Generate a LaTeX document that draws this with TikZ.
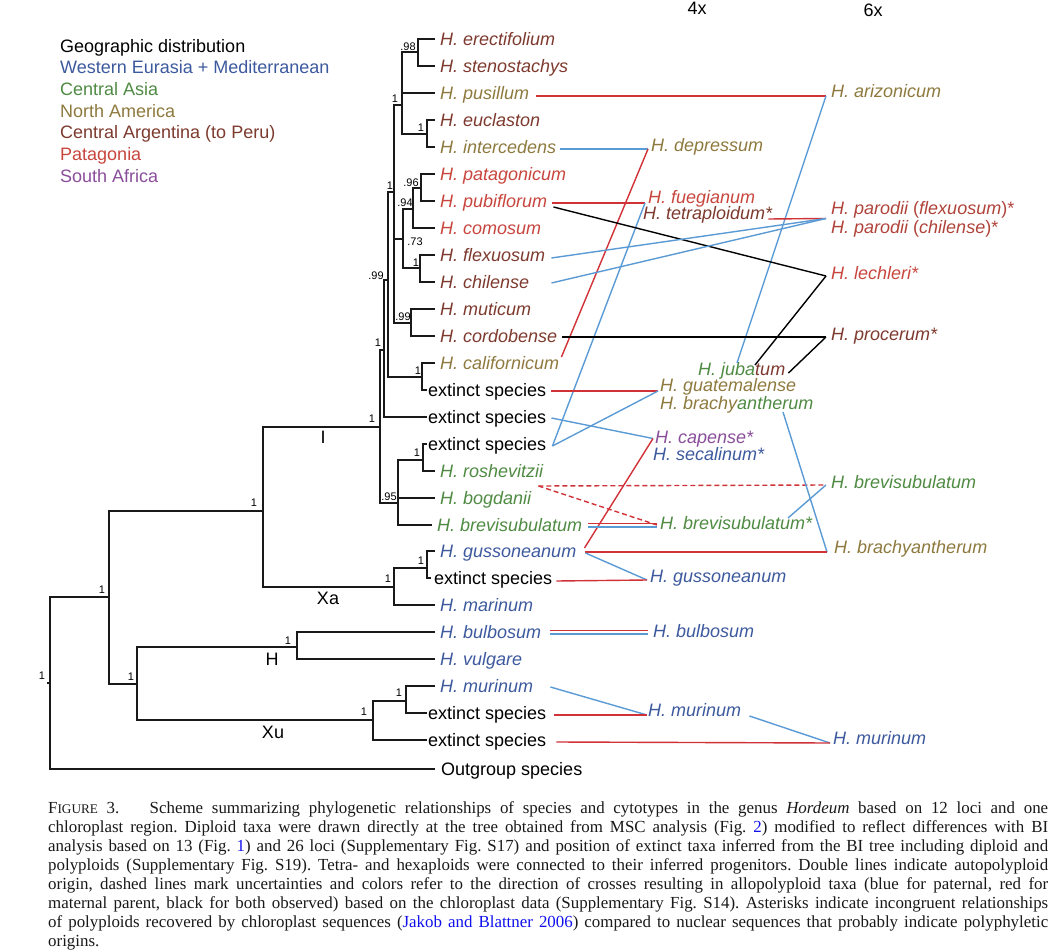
\documentclass[tikz,border=0pt]{standalone}
\usepackage{fontspec}
\setmainfont{Liberation Sans}
\newfontfamily\capfont{Liberation Serif}
\usetikzlibrary{calc}
\definecolor{cWE}{HTML}{3D5A9E}
\definecolor{cCA}{HTML}{4F8B43}
\definecolor{cNA}{HTML}{8E7A3E}
\definecolor{cAR}{HTML}{7E3A2E}
\definecolor{cPA}{HTML}{C8463E}
\definecolor{cPD}{HTML}{B0433A}
\definecolor{cSA}{HTML}{8A4E9A}
\definecolor{lblue}{HTML}{5B9BD5}
\definecolor{lred}{HTML}{D03238}
\definecolor{linkblue}{HTML}{1010EE}
\tikzset{
  tip/.style={anchor=west, inner sep=0pt, text height=13pt, text depth=0pt, font=\fontsize{18}{20}\selectfont\itshape},
  ext/.style={anchor=west, inner sep=0pt, text height=13pt, text depth=0pt, font=\fontsize{18}{20}\selectfont},
  sup/.style={inner sep=0pt, font=\fontsize{11}{12}\selectfont},
  clade/.style={inner sep=0pt, font=\fontsize{18}{20}\selectfont},
  legend/.style={anchor=west, inner sep=0pt, text height=13pt, text depth=0pt, font=\fontsize{18}{20}\selectfont},
  tree/.style={line width=1.7pt, black!90},
  bl/.style={line width=1.4pt, lblue},
  rd/.style={line width=1.4pt, lred},
  bk/.style={line width=1.4pt, black},
  capline/.style={anchor=base west, inner sep=0pt, font=\capfont\fontsize{16.9}{19}\selectfont\frenchspacing, text=black!90}
}
\begin{document}
\begin{tikzpicture}[x=1pt,y=-1pt]
\useasboundingbox (0,0) rectangle (1052,952);
\fill[white] (0,0) rectangle (1052,952);

% legend
\node[legend] (lg0) at (60,46) {Geographic distribution};
\node[legend,cWE] (lg1) at (60,67) {Western Eurasia + Mediterranean};
\node[legend,cCA] (lg2) at (60,89) {Central Asia};
\node[legend,cNA] (lg3) at (60,111) {North America};
\node[legend,cAR] (lg4) at (60,132) {Central Argentina (to Peru)};
\node[legend,cPA] (lg5) at (60,154) {Patagonia};
\node[legend,cSA] (lg6) at (60,176) {South Africa};

% headers
\node[clade] (h4) at (697,8) {4x};
\node[clade] (h6) at (873,10) {6x};

% tips
\node[tip,cAR] (ere) at (440,39) {H. erectifolium};
\node[tip,cAR] (ste) at (440,66) {H. stenostachys};
\node[tip,cNA] (pus) at (440,93) {H. pusillum};
\node[tip,cAR] (euc) at (440,120) {H. euclaston};
\node[tip,cNA] (int) at (440,147) {H. intercedens};
\node[tip,cPA] (pat) at (440,174) {H. patagonicum};
\node[tip,cPA] (pub) at (440,201) {H. pubiflorum};
\node[tip,cPA] (com) at (440,228) {H. comosum};
\node[tip,cAR] (fle) at (440,255) {H. flexuosum};
\node[tip,cAR] (chi) at (440,282) {H. chilense};
\node[tip,cAR] (mut) at (440,309) {H. muticum};
\node[tip,cAR] (cor) at (440,336) {H. cordobense};
\node[tip,cNA] (cal) at (440,363) {H. californicum};
\node[ext] (ex14) at (428,390) {extinct species};
\node[ext] (ex15) at (428,417) {extinct species};
\node[ext] (ex16) at (428,444) {extinct species};
\node[tip,cCA] (ros) at (440,471) {H. roshevitzii};
\node[tip,cCA] (bog) at (440,498) {H. bogdanii};
\node[tip,cCA] (bre) at (437,525) {H. brevisubulatum};
\node[tip,cWE] (gus) at (440,551) {H. gussoneanum};
\node[ext] (ex21) at (434,578) {extinct species};
\node[tip,cWE] (mar) at (440,605) {H. marinum};
\node[tip,cWE] (bul) at (440,632) {H. bulbosum};
\node[tip,cWE] (vul) at (440,659) {H. vulgare};
\node[tip,cWE] (mur) at (440,686) {H. murinum};
\node[ext] (ex26) at (428,713) {extinct species};
\node[ext] (ex27) at (428,740) {extinct species};
\node[ext] (out) at (441,769) {Outgroup species};

% 4x
\node[tip,cNA] (dep) at (651,145) {H. depressum};
\node[tip,cPA] (fue) at (648,197) {H. fuegianum};
\node[tip,cAR] (tet) at (643,213) {H. tetraploidum*};
\node[tip] (jub) at (698,369) {\color{cCA}H. juba\color{cAR}tum};
\node[tip,cNA] (gua) at (660,385) {H. guatemalense};
\node[tip] (bra4) at (660,403) {\color{cNA}H. brachy\color{cCA}antherum};
\node[tip,cSA] (cap) at (655,437) {H. capense*};
\node[tip,cWE] (sec) at (653,454) {H. secalinum*};
\node[tip,cCA] (bre4) at (660,523) {H. brevisubulatum*};
\node[tip,cWE] (gus4) at (650,576) {H. gussoneanum};
\node[tip,cWE] (bul4) at (653,631) {H. bulbosum};
\node[tip,cWE] (mur4) at (648,710) {H. murinum};
% 6x
\node[tip,cNA] (ari) at (831,91) {H. arizonicum};
\node[tip,cPD] (parf) at (831,208) {H. parodii {\upshape(}flexuosum{\upshape)*}};
\node[tip,cPD] (parc) at (831,227) {H. parodii {\upshape(}chilense{\upshape)*}};
\node[tip,cPA] (lec) at (831,273) {H. lechleri*};
\node[tip,cAR] (pro) at (831,334) {H. procerum*};
\node[tip,cCA] (bre6) at (831,482) {H. brevisubulatum};
\node[tip,cNA] (bra6) at (834,547) {H. brachyantherum};
\node[tip,cWE] (mur6) at (833,738) {H. murinum};

% internal nodes
\coordinate (R) at (50,683);
\coordinate (N109) at (109,597);
\coordinate (N263) at (263,511);
\coordinate (N137) at (137,684);
\coordinate (N380) at (380,427);
\coordinate (NXa) at (394,587);
\coordinate (Ngus) at (427,568);
\coordinate (NH) at (297,647);
\coordinate (NXu) at (373,720);
\coordinate (Nmur) at (406,701);
\coordinate (N384) at (384,350);
\coordinate (N398) at (398,503);
\coordinate (N423) at (423,460);
\coordinate (N388) at (388,280);
\coordinate (N394) at (394,192);
\coordinate (Ncal) at (422,377);
\coordinate (N402) at (402,105);
\coordinate (N418) at (418,52);
\coordinate (Neuc) at (427,134);
\coordinate (N403) at (403,239);
\coordinate (N413) at (413,209);
\coordinate (N421) at (421,188);
\coordinate (Nfle) at (420,268);
\coordinate (Nmut) at (411,323);

% tree
\draw[tree] (R) -- ++(-3,0);
\draw[tree] (R) |- (N109) (R) |- ($(out.west)+(-6,0)$);
\draw[tree] (N109) |- (N263) (N109) |- (N137);
\draw[tree] (N263) |- (N380) (N263) |- (NXa);
\draw[tree] (N137) |- (NH) (N137) |- (NXu);
\draw[tree] (N380) |- (N384) (N380) |- (N398);
\draw[tree] (N384) |- (N388) (N384) |- ($(ex15.west)+(-1,0)$);
\draw[tree] (N388) |- (N394) (N388) |- (Ncal);
\draw[tree] (N394) |- (N402) (N394) |- (N403) (N394) |- (Nmut);
\draw[tree] (N402) |- (N418) (N402) |- ($(pus.west)+(-5,0)$) (N402) |- (Neuc);
\draw[tree] (N418) |- ($(ere.west)+(-5,0)$) (N418) |- ($(ste.west)+(-5,0)$);
\draw[tree] (Neuc) |- ($(euc.west)+(-5,0)$) (Neuc) |- ($(int.west)+(-5,0)$);
\draw[tree] (N403) |- (N413) (N403) |- (Nfle);
\draw[tree] (N413) |- (N421) (N413) |- ($(com.west)+(-5,0)$);
\draw[tree] (N421) |- ($(pat.west)+(-5,0)$) (N421) |- ($(pub.west)+(-5,0)$);
\draw[tree] (Nfle) |- ($(fle.west)+(-5,0)$) (Nfle) |- ($(chi.west)+(-5,0)$);
\draw[tree] (Nmut) |- ($(mut.west)+(-5,0)$) (Nmut) |- ($(cor.west)+(-5,0)$);
\draw[tree] (Ncal) |- ($(cal.west)+(-5,0)$) (Ncal) |- ($(ex14.west)+(-1,0)$);
\draw[tree] (N398) |- (N423) (N398) |- ($(bog.west)+(-5,0)$) (N398) |- ($(bre.west)+(-5,0)$);
\draw[tree] (N423) |- ($(ex16.west)+(-1,0)$) (N423) |- ($(ros.west)+(-5,0)$);
\draw[tree] (NXa) |- (Ngus) (NXa) |- ($(mar.west)+(-5,0)$);
\draw[tree] (Ngus) |- ($(gus.west)+(-5,0)$) (Ngus) |- ($(ex21.west)+(-3,0)$);
\draw[tree] (NH) |- ($(bul.west)+(-5,0)$) (NH) |- ($(vul.west)+(-5,0)$);
\draw[tree] (NXu) |- (Nmur) (NXu) |- ($(ex27.west)+(-1,0)$);
\draw[tree] (Nmur) |- ($(mur.west)+(-5,0)$) (Nmur) |- ($(ex26.west)+(-1,0)$);

% support values
\node[sup] (s1) at (42,676) {1};
\node[sup] (s2) at (102,590) {1};
\node[sup] (s3) at (254,503) {1};
\node[sup] (s4) at (131,677) {1};
\node[sup] (s5) at (372,419) {1};
\node[sup] (s6) at (388,579) {1};
\node[sup] (s7) at (421,561) {1};
\node[sup] (s8) at (288,641) {1};
\node[sup] (s9) at (364,712) {1};
\node[sup] (s10) at (399,693) {1};
\node[sup] (s11) at (378,343) {1};
\node[sup] (s12) at (389,497) {.95};
\node[sup] (s13) at (417,453) {1};
\node[sup] (s14) at (376,276) {.99};
\node[sup] (s15) at (390,186) {1};
\node[sup] (s16) at (418,371) {1};
\node[sup] (s17) at (395,99) {1};
\node[sup] (s18) at (408,47) {.98};
\node[sup] (s19) at (421,128) {1};
\node[sup] (s20) at (415,242) {.73};
\node[sup] (s21) at (405,203) {.94};
\node[sup] (s22) at (411,183) {.96};
\node[sup] (s23) at (416,263) {1};
\node[sup] (s24) at (403,317) {.99};

% clade labels
\node[clade] (cI) at (323,437) {I};
\node[clade] (cXa) at (328,598) {Xa};
\node[clade] (cH) at (272,659) {H};
\node[clade] (cXu) at (273,732) {Xu};

% connection points
\coordinate (ariP) at ($(ari.west)+(-5,5)$);
\coordinate (depP) at ($(dep.west)+(-3,4)$);
\coordinate (fueP) at ($(fue.west)+(-3,6)$);
\coordinate (parP) at ($(parf.west)!0.5!(parc.west)+(-5,1)$);
\coordinate (lecP) at ($(lec.west)+(-5,3)$);
\coordinate (proP) at ($(pro.west)+(-5,3)$);
\coordinate (guaP) at ($(gua.west)+(-2,6)$);
\coordinate (capP) at ($(cap.west)+(-2,1.5)$);
\coordinate (gus4P) at ($(gus4.west)+(-3,4)$);
\coordinate (bra6P) at ($(bra6.west)+(-7,5)$);
\coordinate (bre6P) at ($(bre6.west)+(-5,3)$);
\coordinate (mur4P) at ($(mur4.west)+(-1,5)$);
\coordinate (mur6P) at ($(mur6.west)+(-3,5)$);
\coordinate (ex16P) at ($(ex16.east)+(6,2)$);
\coordinate (bogP) at ($(bog.east)+(7,-12)$);
\coordinate (breR) at (bre4.west |- bre.east);
\coordinate (bulR) at (bul4.west |- bul.east);

% connectors
\draw[rd] ($(pus.east)+(7,3)$) -- (ariP);
\draw[bl] (ariP) -- ($(jub.west)+(39,-6)$);
\draw[bl] ($(int.east)+(4,2)$) -- (depP);
\draw[rd] (depP) -- ($(cal.east)+(2,-6)$);
\draw[rd] ($(pub.east)+(5,2)$) -- (fueP);
\draw[bl] (fueP) -- (ex16P);
\draw[bk] ($(pub.east)+(6,6)$) -- (lecP);
\draw[bk] (lecP) -- ($(jub.west)+(57,-4)$);
\draw[rd] ($(tet.east)+(-4,6)$) -- (parP);
\draw[bl] ($(fle.east)+(6,3)$) -- (parP);
\draw[bl] ($(chi.east)+(22,1)$) -- (parP);
\draw[bk] ($(cor.east)+(5,1)$) -- (proP);
\draw[bk] (proP) -- ($(jub.east)+(3,4)$);
\draw[rd] ($(ex14.east)+(5,1)$) -- (guaP);
\draw[bl] (ex16P) -- (guaP);
\draw[bl] ($(ex15.east)+(5,1)$) -- (capP);
\draw[rd] (capP) -- ($(gus.east)+(8,-3)$);
\draw[rd,dash pattern=on 5pt off 3pt] (bogP) -- (bre6P);
\draw[rd,dash pattern=on 5pt off 3pt] (bogP) -- ($(bre4.west)+(-3,2)$);
\draw[rd] ($(bre.east)+(6,-1.8)$) -- ($(breR)+(-3,-1.8)$);
\draw[bl] ($(bre.east)+(6,1.8)$) -- ($(breR)+(-3,1.8)$);
\draw[bl] ($(bre4.west)+(128,-5)$) -- (bre6P);
\draw[bl] ($(bra4.west)+(123,9)$) -- (bra6P);
\draw[rd] ($(gus.east)+(9,1)$) -- (bra6P);
\draw[bl] ($(gus.east)+(9,2)$) -- (gus4P);
\draw[rd] ($(ex21.east)+(4,3)$) -- (gus4P);
\draw[rd] ($(bul.east)+(9,-1.8)$) -- ($(bulR)+(-5,-1.8)$);
\draw[bl] ($(bul.east)+(9,1.8)$) -- ($(bulR)+(-5,1.8)$);
\draw[bl] ($(mur.east)+(17,1)$) -- (mur4P);
\draw[rd] ($(ex26.east)+(8,2)$) -- (mur4P);
\draw[bl] ($(mur4.east)+(8,6)$) -- (mur6P);
\draw[rd] ($(ex27.east)+(10,2)$) -- (mur6P);

% caption
\node[capline] (L1) at (48,813) {\makebox[1000pt][s]{F{\fontsize{13.2}{14}\selectfont IGURE} 3.\hspace{1.8em}Scheme summarizing phylogenetic relationships of species and cytotypes in the genus \textit{Hordeum} based on 12 loci and one}};
\node[capline] (L2) at (48,832.1) {\makebox[1000pt][s]{chloroplast region. Diploid taxa were drawn directly at the tree obtained from MSC analysis (Fig.~\textcolor{linkblue}{2}) modified to reflect differences with BI}};
\node[capline] (L3) at (48,851.2) {\makebox[1000pt][s]{analysis based on 13 (Fig.~\textcolor{linkblue}{1}) and 26 loci (Supplementary Fig.~S17) and position of extinct taxa inferred from the BI tree including diploid and}};
\node[capline] (L4) at (48,870.3) {\makebox[1000pt][s]{polyploids (Supplementary Fig.~S19). Tetra- and hexaploids were connected to their inferred progenitors. Double lines indicate autopolyploid}};
\node[capline] (L5) at (48,889.4) {\makebox[1000pt][s]{origin, dashed lines mark uncertainties and colors refer to the direction of crosses resulting in allopolyploid taxa (blue for paternal, red for}};
\node[capline] (L6) at (48,908.5) {\makebox[1000pt][s]{maternal parent, black for both observed) based on the chloroplast data (Supplementary Fig.~S14). Asterisks indicate incongruent relationships}};
\node[capline] (L7) at (48,927.6) {\makebox[1000pt][s]{of polyploids recovered by chloroplast sequences (\textcolor{linkblue}{Jakob and Blattner 2006}) compared to nuclear sequences that probably indicate polyphyletic}};
\node[capline] (L8) at (48,946.7) {origins.};
\end{tikzpicture}
\end{document}
